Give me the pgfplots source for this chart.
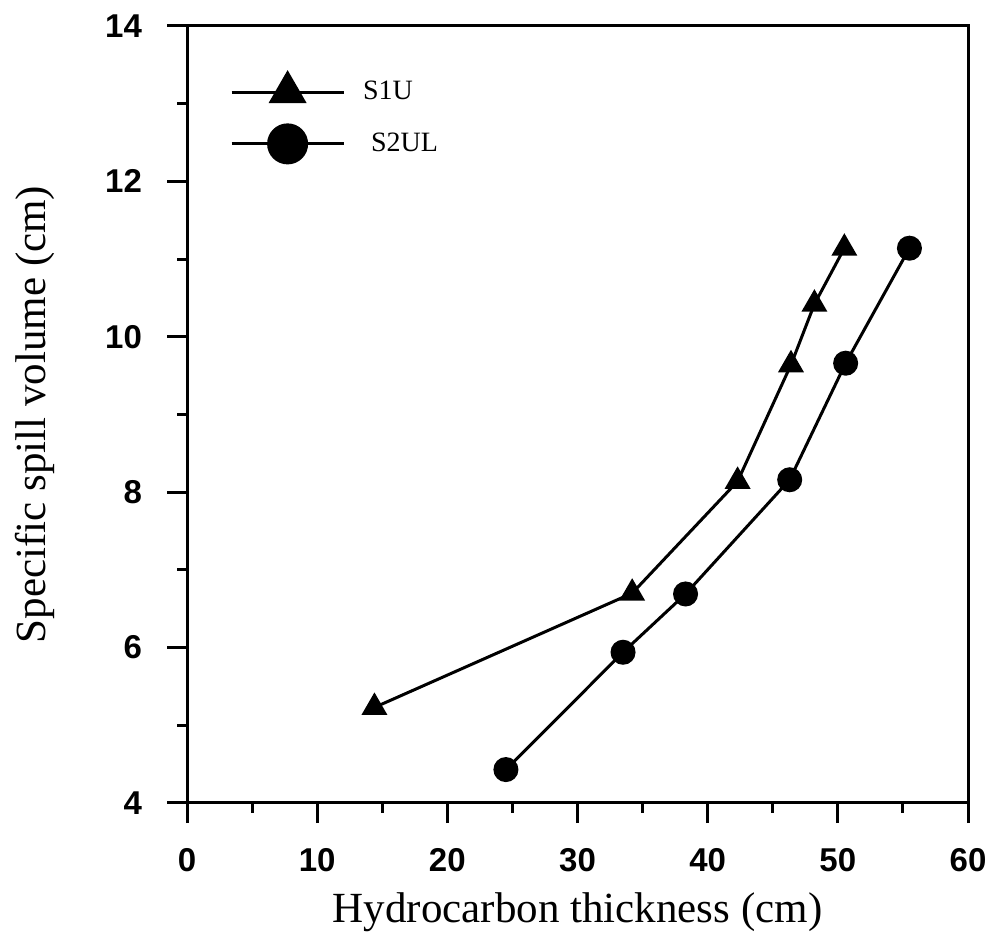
\documentclass[border=0pt]{standalone}
\usepackage{fontspec}
\setmainfont{Liberation Serif}
\newfontfamily\arialfont{Liberation Sans}
\usepackage{pgfplots}
\pgfplotsset{compat=1.18}
\begin{document}
\begin{tikzpicture}
\useasboundingbox (0pt,0pt) rectangle (497pt,472.5pt);
\begin{axis}[
  at={(93.5pt,71pt)}, anchor=south west,
  width=390.5pt, height=388.5pt, scale only axis,
  xmin=0, xmax=60, ymin=4, ymax=14,
  xtick={0,10,...,60}, ytick={4,6,...,14},
  minor xtick={5,15,...,55}, minor ytick={5,7,...,13},
  tick align=outside, major tick length=10pt, minor tick length=5pt,
  xtick pos=bottom, ytick pos=left,
  axis line style={line width=1.5pt},
  every tick/.style={line width=1.5pt, black},
  /pgf/number format/assume math mode=true,
  ticklabel style={font=\arialfont\bfseries\fontsize{16.5}{18}\selectfont},
  xticklabel style={yshift=-9pt},
  yticklabel style={xshift=-9pt},
  xlabel={Hydrocarbon thickness (cm)},
  ylabel={Specific spill volume (cm)},
  xlabel style={font=\fontsize{21.5}{24}\selectfont, at={(axis description cs:0.5,-0.1544)}, anchor=base},
  ylabel style={font=\fontsize{21.5}{24}\selectfont, at={(axis description cs:-0.195,0.5)}, anchor=center},
  legend style={at={(0.047,0.945)}, anchor=north west, draw=none, fill=none,
    font=\fontsize{14}{16}\selectfont, row sep=9pt},
  legend cell align=left,
  legend image code/.code={
    \draw[line width=1.5pt] (0pt,0pt) -- (56pt,0pt);
    \draw[mark size=9.5pt] plot coordinates {(28pt,0pt)};
  },
  clip=false,
]
\addplot[black, line width=1.5pt, mark=triangle*, mark size=6pt] coordinates {
 (14.4,5.23) (34.2,6.70) (42.3,8.14) (46.4,9.64) (48.2,10.42) (50.5,11.14)
};
\addlegendentry{\hspace{7pt}S1U}
\addplot[black, line width=1.5pt, mark=*, mark size=5.5pt] coordinates {
 (24.5,4.43) (33.5,5.94) (38.3,6.69) (46.3,8.16) (50.6,9.66) (55.5,11.14)
};
\addlegendentry{\hspace{11pt}S2UL}
\end{axis}
\end{tikzpicture}
\end{document}
